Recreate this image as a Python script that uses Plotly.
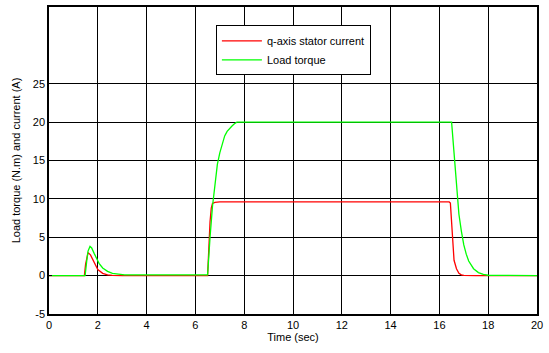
import plotly.graph_objects as go

t_current = [0, 1.45, 1.5, 1.55, 1.6, 1.7, 1.8, 1.9, 2.0, 2.2, 2.4, 2.6, 3.0,
             6.5, 6.55, 6.6, 6.65, 6.7, 6.8, 6.9, 7.0, 7.5,
             16.4, 16.45, 16.5, 16.55, 16.6, 16.7, 16.8, 16.9, 17.0, 17.5, 20]
current = [0, 0, 1.5, 2.5, 3.0, 2.7, 2.0, 1.3, 0.8, 0.3, 0.1, 0.03, 0,
           0, 4, 7, 8.8, 9.4, 9.55, 9.6, 9.6, 9.6,
           9.6, 9.45, 6.5, 3.5, 2.0, 0.9, 0.3, 0.1, 0.02, 0, 0]

t_torque = [0, 1.48, 1.55, 1.6, 1.68, 1.75, 1.85, 1.95, 2.05, 2.2, 2.4, 2.6, 2.8, 3.0, 3.1,
            6.5, 6.55, 6.6, 6.7, 6.8, 6.9, 7.0, 7.1, 7.2, 7.3, 7.4, 7.5, 7.6, 7.7,
            16.5, 16.55, 16.6, 16.7, 16.8, 16.9, 17.0, 17.1, 17.2, 17.4, 17.6, 17.8, 18.0, 20]
torque = [0, 0, 2.0, 3.2, 3.8, 3.6, 2.9, 2.3, 1.6, 1.0, 0.55, 0.3, 0.2, 0.15, 0.1,
          0.1, 2, 5, 9, 12, 14.5, 16, 17.3, 18.2, 18.8, 19.2, 19.5, 19.8, 20,
          20, 18, 15, 11, 8, 5.8, 4, 2.8, 1.9, 0.9, 0.4, 0.15, 0.05, 0]

x_ticks = list(range(0, 21, 2))
y_ticks = [-5, 0, 5, 10, 15, 20, 25]
y_labels = ["-5", "0", "5", "10", "15", "20", "25"]

fig = go.Figure()
fig.add_trace(go.Scatter(x=t_current, y=current, mode="lines", name="q-axis stator current",
                         line=dict(color="#ff0000", width=1.3)))
fig.add_trace(go.Scatter(x=t_torque, y=torque, mode="lines", name="Load torque",
                         line=dict(color="#00ff00", width=1.3)))

axis_common = dict(showline=True, linecolor="black", linewidth=1.5, mirror=True,
                   showgrid=True, gridcolor="black", gridwidth=1,
                   ticks="inside", ticklen=3, tickcolor="black", zeroline=False,
                   tickfont=dict(family="Liberation Sans, Arial", size=11, color="black"))

fig.update_layout(
    width=549, height=353,
    margin=dict(l=49, r=12, t=5, b=39),
    paper_bgcolor="white", plot_bgcolor="white",
    font=dict(family="Liberation Sans, Arial", size=11, color="black"),
    xaxis=dict(range=[0, 20], tickvals=x_ticks,
               title=dict(text="Time (sec)", standoff=2, font=dict(size=11)), **axis_common),
    yaxis=dict(range=[-5, 35], tickvals=y_ticks, ticktext=y_labels,
               title=dict(text="Load torque (N.m) and current (A)", standoff=10, font=dict(size=11)),
               **axis_common),
    legend=dict(x=0.342, y=0.94, xanchor="left", yanchor="top",
                bgcolor="white", bordercolor="black", borderwidth=1,
                font=dict(size=11), tracegroupgap=0, itemwidth=40),
    showlegend=True,
)

fig.write_html("out.html")
